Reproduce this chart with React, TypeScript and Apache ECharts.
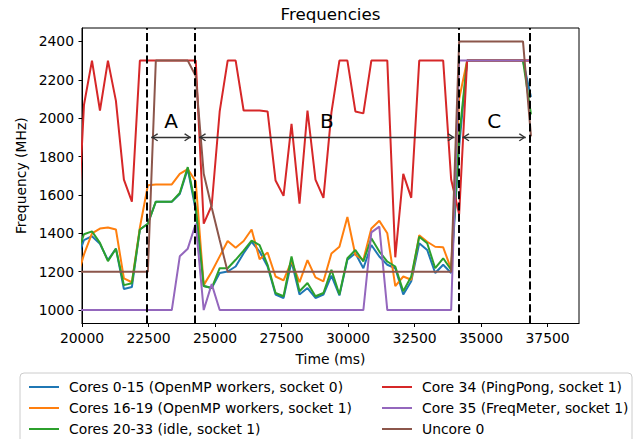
import React, { useEffect, useRef } from "react";
import * as echarts from "echarts";

// sample times (ms)
const times = [
  19775, 20075, 20375, 20675, 20975, 21275, 21575, 21875, 22175, 22475,
  22775, 23075, 23375, 23675, 23975, 24275, 24575, 24875, 25175, 25475,
  25775, 26075, 26375, 26675, 26975, 27275, 27575, 27875, 28175, 28475,
  28775, 29075, 29375, 29675, 29975, 30275, 30575, 30875, 31175, 31475,
  31775, 32075, 32375, 32675, 32975, 33275, 33575, 33875, 34175, 34475,
  34775, 35075, 35375, 35675, 35975, 36275, 36575, 36875,
];

const cores0to15 = [
  1250, 1365, 1385, 1345, 1260, 1320, 1110, 1120, 1420, 1450,
  1565, 1565, 1565, 1605, 1735, 1520, 1125, 1115, 1193, 1201,
  1227, 1296, 1356, 1305, 1227, 1081, 1063, 1253, 1081, 1115,
  1063, 1081, 1180, 1076, 1262, 1296, 1218, 1339, 1279, 1236,
  1218, 1081, 1150, 1348, 1313, 1193, 1236, 1193, 1850, 2300,
  2300, 2300, 2300, 2300, 2300, 2300, 2300, 2110,
];

const cores16to19 = [
  1150, 1290, 1400, 1425, 1430, 1420, 1165, 1145, 1430, 1650,
  1655, 1655, 1655, 1710, 1735, 1670, 1130, 1200, 1280, 1360,
  1325, 1360, 1420, 1265, 1300, 1175, 1155, 1255, 1145, 1260,
  1170, 1150, 1295, 1330, 1485, 1287, 1262, 1425, 1465, 1400,
  1125, 1175, 1158, 1390, 1356, 1330, 1327, 1213, 2100, 2300,
  2300, 2300, 2300, 2300, 2300, 2300, 2300, 2300,
];

const cores20to33 = [
  1280, 1395, 1410, 1350, 1255, 1320, 1130, 1140, 1420, 1450,
  1565, 1565, 1565, 1610, 1745, 1540, 1125, 1115, 1218, 1218,
  1262, 1310, 1362, 1339, 1236, 1089, 1072, 1279, 1098, 1141,
  1072, 1089, 1210, 1081, 1270, 1313, 1253, 1374, 1305, 1253,
  1227, 1098, 1175, 1382, 1348, 1218, 1270, 1210, 1900, 2300,
  2300, 2300, 2300, 2300, 2300, 2300, 2300, 2020,
];

const core34 = [
  1250, 2070, 2300, 2040, 2300, 2090, 1680, 1565, 2300, 2300,
  2300, 2300, 2300, 2300, 2300, 2300, 1450, 1545, 2035, 2300,
  2300, 2040, 2040, 2040, 2035, 1675, 1595, 1970, 1555, 2040,
  1680, 1585, 2030, 2300, 2300, 2035, 2025, 2300, 2300, 2300,
  1275, 1710, 1585, 2300, 2300, 2300, 2300, 1680, 1500, 2300,
  2300, 2300, 2300, 2300, 2300, 2300, 2300, 2300,
];

const core35 = [
  1000, 1000, 1000, 1000, 1000, 1000, 1000, 1000, 1000, 1000,
  1000, 1000, 1000, 1280, 1320, 1450, 1000, 1135, 1000, 1000,
  1000, 1000, 1000, 1000, 1000, 1000, 1000, 1000, 1000, 1000,
  1000, 1000, 1000, 1000, 1000, 1000, 1000, 1405, 1435, 1000,
  1000, 1000, 1000, 1000, 1000, 1000, 1000, 1000, 2300, 2300,
  2300, 2300, 2300, 2300, 2300, 2300, 2300, 2300,
];

const uncore0 = [
  1200, 1200, 1200, 1200, 1200, 1200, 1200, 1200, 1200, 1200,
  2300, 2300, 2300, 2300, 2300, 2220, 1710, 1535, 1365, 1200,
  1200, 1200, 1200, 1200, 1200, 1200, 1200, 1200, 1200, 1200,
  1200, 1200, 1200, 1200, 1200, 1200, 1200, 1200, 1200, 1200,
  1200, 1200, 1200, 1200, 1200, 1200, 1200, 1200, 2400, 2400,
  2400, 2400, 2400, 2400, 2400, 2400, 2400, 1905,
];

const seriesNames = [
  "Cores 0-15 (OpenMP workers, socket 0)",
  "Cores 16-19 (OpenMP workers, socket 1)",
  "Cores 20-33 (idle, socket 1)",
  "Core 34 (PingPong, socket 1)",
  "Core 35 (FreqMeter, socket 1)",
  "Uncore 0",
];
const seriesValues = [cores0to15, cores16to19, cores20to33, core34, core35, uncore0];
const colors = ["#1f77b4", "#ff7f0e", "#2ca02c", "#d62728", "#9467bd", "#8c564b"];

const xTicks = [20000, 22500, 25000, 27500, 30000, 32500, 35000, 37500];
const yTicks = [1000, 1200, 1400, 1600, 1800, 2000, 2200, 2400];

const phaseBounds = [22450, 24250, 34150, 36830];
const phaseLabels = ["A", "B", "C"];
const arrowLevel = 1900;
const labelLevel = 1985;

const FONT = "DejaVu Sans";
// chevron arrow head with its tip at the symbol centre
const ARROW =
  "path://M50,-100 L50,-99 Z M50,0 L100,85 L88,100 L50,32 L12,100 L0,85 Z";

export default function App() {
  const ref = useRef<HTMLDivElement>(null);
  useEffect(() => {
    const chart = echarts.init(ref.current!, null, { renderer: "svg" });
    const xMin = 20000;
    const xMax = 38680;
    const gridLeft = 82;
    const gridRight = 59;
    const pxPerMs = (638 - gridLeft - gridRight) / (xMax - xMin);
    const arrowPad = 4 / pxPerMs;

    const lineSeries = seriesNames.map((name, i) => ({
      name,
      type: "line",
      data: times.map((t, j) => [t, seriesValues[i][j]]),
      showSymbol: false,
      symbol: "none",
      lineStyle: { color: colors[i], width: 2 },
      itemStyle: { color: colors[i] },
      z: 2 + i * 0.01,
      clip: true,
    }));

    const option: any = {
      animation: false,
      grid: {
        left: gridLeft,
        right: gridRight,
        top: 28,
        height: 295.5,
        show: true,
        borderColor: "#000",
        borderWidth: 1,
        backgroundColor: "transparent",
      },
      xAxis: {
        type: "value",
        min: xMin,
        max: xMax,
        name: "Time (ms)",
        nameLocation: "middle",
        nameGap: 28,
        nameTextStyle: { fontFamily: FONT, fontSize: 13.9, color: "#000" },
        axisLine: { show: true, lineStyle: { color: "#000", width: 1 } },
        axisTick: { show: true, length: 3.5, customValues: xTicks, lineStyle: { color: "#000" } },
        axisLabel: {
          customValues: xTicks,
          formatter: (v: number) => String(v),
          fontFamily: FONT,
          fontSize: 13.9,
          color: "#000",
          margin: 7,
        },
        splitLine: { show: false },
      },
      yAxis: {
        type: "value",
        min: 930,
        max: 2470,
        name: "Frequency (MHz)",
        nameLocation: "middle",
        nameGap: 51,
        nameTextStyle: { fontFamily: FONT, fontSize: 13.9, color: "#000" },
        axisLine: { show: true, lineStyle: { color: "#000", width: 1 } },
        axisTick: { show: true, length: 3.5, customValues: yTicks, lineStyle: { color: "#000" } },
        axisLabel: {
          customValues: yTicks,
          formatter: (v: number) => String(v),
          fontFamily: FONT,
          fontSize: 13.9,
          color: "#000",
          margin: 8,
        },
        splitLine: { show: false },
      },
      legend: [0, 1].map((c) => ({
        data: seriesNames.slice(c * 3, c * 3 + 3),
        orient: "vertical",
        left: c === 0 ? 29 : 382,
        top: 380,
        height: 120,
        padding: 0,
        icon: "rect",
        itemWidth: 30,
        itemHeight: 2,
        itemGap: 7,
        selectedMode: false,
        textStyle: {
          fontFamily: FONT,
          fontSize: 13.9,
          color: "#000",
          lineHeight: 13,
          padding: [0, 0, 0, 5],
        },
      })),
      graphic: [
        {
          type: "rect",
          shape: { x: 20, y: 373, width: 612, height: 90, r: 4 },
          style: { fill: "#fff", stroke: "#cccccc", lineWidth: 1 },
          z: 0,
        },
        {
          type: "text",
          x: 330.5,
          y: 14,
          style: {
            text: "Frequencies",
            fill: "#000",
            fontFamily: FONT,
            fontSize: 16.7,
            align: "center",
            verticalAlign: "middle",
          },
        },
      ],
      series: [
        ...lineSeries,
        {
          name: "phases",
          type: "line",
          data: [],
          z: 10,
          silent: true,
          markLine: {
            silent: true,
            symbol: "none",
            label: { show: false },
            lineStyle: { color: "#000", width: 2, type: [8, 3.3] },
            data: phaseBounds.map((b) => ({ xAxis: b })),
          },
        },
        {
          name: "arrows",
          type: "line",
          data: [],
          z: 11,
          silent: true,
          markLine: {
            silent: true,
            symbol: [ARROW, ARROW],
            symbolSize: [8, 14],
            label: { show: false },
            lineStyle: { color: "#333", width: 1.3, type: "solid" },
            data: phaseLabels.map((_, i) => [
              { coord: [phaseBounds[i] + arrowPad, arrowLevel] },
              { coord: [phaseBounds[i + 1] - arrowPad, arrowLevel] },
            ]),
          },
          markPoint: {
            silent: true,
            symbol: "rect",
            symbolSize: 1,
            itemStyle: { color: "transparent" },
            label: {
              show: true,
              position: "inside",
              formatter: (p: any) => p.name,
              fontFamily: FONT,
              fontSize: 20,
              color: "#000",
            },
            data: phaseLabels.map((n, i) => ({
              name: n,
              coord: [(phaseBounds[i] + phaseBounds[i + 1]) / 2, labelLevel],
            })),
          },
        },
      ],
    };
    chart.setOption(option);
    return () => chart.dispose();
  }, []);
  return (
    <div
      ref={ref}
      style={{ position: "fixed", left: 0, top: 0, width: 638, height: 439, background: "#fff" }}
    />
  );
}
